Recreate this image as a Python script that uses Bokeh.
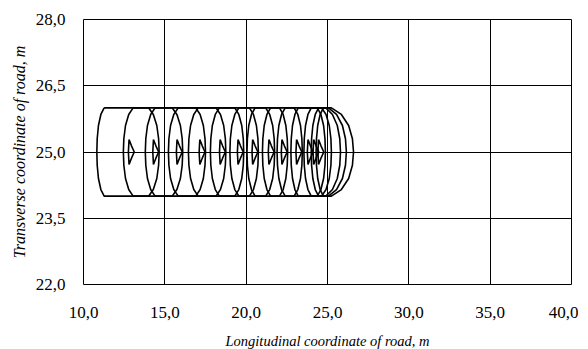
from bokeh.plotting import figure
from bokeh.models import Range1d, FixedTicker
from bokeh.embed import file_html
from bokeh.resources import INLINE

# ---- data ----
x_ticks = [10, 15, 20, 25, 30, 35, 40]
x_tick_labels = ["10,0", "15,0", "20,0", "25,0", "30,0", "35,0", "40,0"]
y_ticks = [22, 23.5, 25, 26.5, 28]
y_tick_labels = ["22,0", "23,5", "25,0", "26,5", "28,0"]

# centres of the innermost contours (small triangles)
peak_x = [12.9, 14.4, 15.85, 17.25, 18.5, 19.6, 20.5, 21.5, 22.3, 23.2, 23.9, 24.25, 24.55]
peak_y = 25.0

# closed contours: left / right extreme x at the centre line, and top insets
contour_left = [10.82, 12.45, 13.8, 15.22, 16.45, 17.8, 19.0, 20.05, 21.0, 21.9, 22.75, 23.55, 24.0, 24.3]
contour_right = [26.6, 14.65, 16.1, 17.5, 18.75, 19.85, 20.75, 21.75, 22.55, 23.45, 24.87, 25.24, 25.8, 26.16]
inset_left = [0.45, 0.6, 0.6, 0.6, 0.6, 0.55, 0.55, 0.5, 0.5, 0.5, 0.45, 0.45, 0.45, 0.45]
inset_right = [1.36, 0.65, 0.65, 0.6, 0.6, 0.55, 0.55, 0.55, 0.5, 0.5, 0.5, 0.6, 0.9, 1.1]
y_low, y_high = 24.0, 26.0

# shape profile of a contour side (fraction of inset vs. distance from centre line)
prof_dy = [1.0, 0.85, 0.6, 0.3, 0.0]
prof_frac = [1.0, 0.55, 0.22, 0.05, 0.0]

half = (y_high - y_low) / 2.0
ys_side = [peak_y + d * half for d in prof_dy] + [peak_y - d * half for d in reversed(prof_dy[:-1])]
fr_side = prof_frac + list(reversed(prof_frac[:-1]))

xs_all, ys_all = [], []
for L, R, il, ir in zip(contour_left, contour_right, inset_left, inset_right):
    left_x = [L + il * f for f in fr_side]
    right_x = [R - ir * f for f in reversed(fr_side)]
    xs_all.append(left_x + right_x + [left_x[0]])
    ys_all.append(ys_side + list(reversed(ys_side)) + [ys_side[0]])

# small inner contours
tri_dx = [-0.1, 0.05, 0.22, 0.05, -0.1, -0.14, -0.1]
tri_dy = [0.28, 0.14, 0.0, -0.14, -0.28, 0.0, 0.28]
for c in peak_x:
    xs_all.append([c + d for d in tri_dx])
    ys_all.append([peak_y + d for d in tri_dy])

p = figure(frame_width=488, frame_height=265, x_range=Range1d(10, 40), y_range=Range1d(22, 28),
           output_backend="svg", toolbar_location=None,
           min_border_left=83, min_border_right=7, min_border_top=19, min_border_bottom=40)

p.multi_line(xs_all, ys_all, line_color="black", line_width=1.6)

serif = "Liberation Serif"
p.xaxis.ticker = FixedTicker(ticks=x_ticks)
p.yaxis.ticker = FixedTicker(ticks=y_ticks)
p.xaxis.major_label_overrides = {t: l for t, l in zip(x_ticks, x_tick_labels)}
p.yaxis.major_label_overrides = {t: l for t, l in zip(y_ticks, y_tick_labels)}
for ax in (p.xaxis, p.yaxis):
    ax.axis_line_color = None
    ax.major_tick_line_color = None
    ax.minor_tick_line_color = None
    ax.major_label_text_font = serif
    ax.major_label_text_font_size = "17px"
    ax.major_label_text_color = "black"
    ax.axis_label_text_font = serif
    ax.axis_label_text_font_style = "italic"
    ax.axis_label_text_color = "black"
p.xaxis.axis_label_text_font_size = "14.5px"
p.yaxis.axis_label_text_font_size = "16px"
p.xaxis.major_label_standoff = 16
p.yaxis.major_label_standoff = 12
p.xaxis.axis_label = "Longitudinal coordinate of road, m"
p.yaxis.axis_label = "Transverse coordinate of road, m"
p.xaxis.axis_label_standoff = 12
p.yaxis.axis_label_standoff = 5

p.xgrid.grid_line_color = "black"
p.ygrid.grid_line_color = "black"
p.xgrid.grid_line_width = 1
p.ygrid.grid_line_width = 1
p.outline_line_color = "black"
p.outline_line_width = 1

open("out.html", "w").write(file_html(p, INLINE))
